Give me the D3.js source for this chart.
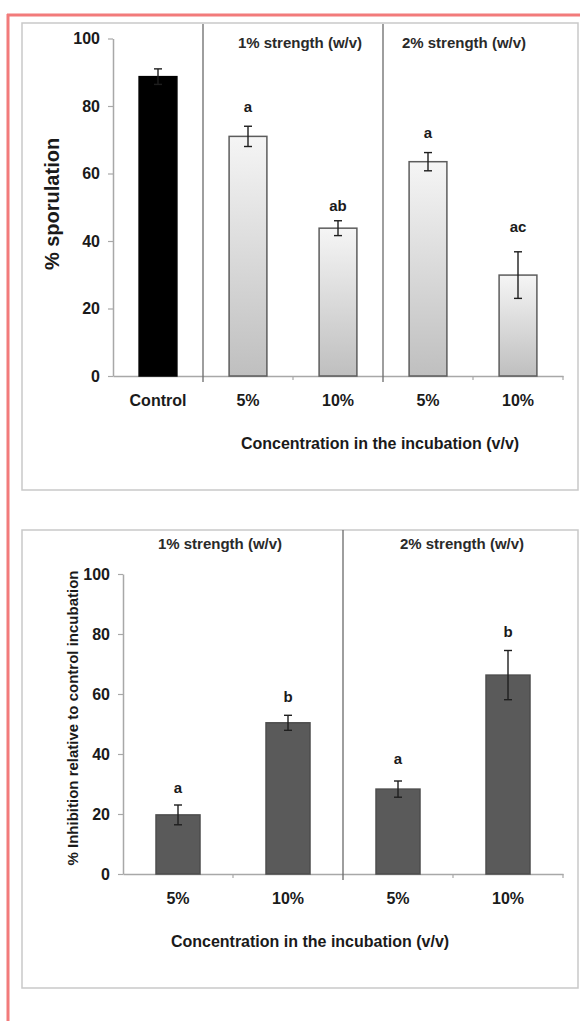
<!DOCTYPE html>
<html>
<head>
<meta charset="utf-8">
<script src="https://cdn.jsdelivr.net/npm/d3@7"></script>
<style>
  html, body { margin: 0; padding: 0; background: #fff; }
  svg { display: block; font-family: "Liberation Sans", Arial, sans-serif; }
</style>
</head>
<body>
<svg id="chart" width="580" height="1021"></svg>
<script>
// ---------- DATA ----------
// Panel 1: % sporulation
const categories1 = ["Control", "5%", "10%", "5%", "10%"];
const values1 = [88.7, 71.0, 43.8, 63.5, 29.9];
const errors1 = [2.3, 3.0, 2.2, 2.7, 6.9];
const letters1 = ["", "a", "ab", "a", "ac"];
const letterPos1 = [null, 79.8, 50.3, 72.0, 44.2];
const groups1 = ["1% strength (w/v)", "2% strength (w/v)"];
const yTicks1 = [0, 20, 40, 60, 80, 100];

// Panel 2: % inhibition
const categories2 = ["5%", "10%", "5%", "10%"];
const values2 = [19.7, 50.4, 28.3, 66.3];
const errors2 = [3.3, 2.5, 2.7, 8.2];
const letters2 = ["a", "b", "a", "b"];
const letterPos2 = [28.7, 59.1, 38.2, 80.8];
const groups2 = ["1% strength (w/v)", "2% strength (w/v)"];
const yTicks2 = [0, 20, 40, 60, 80, 100];

const xTitle = "Concentration in the incubation (v/v)";
const yTitle1 = "% sporulation";
const yTitle2 = "% Inhibition relative to control incubation";

// ---------- DRAW ----------
const svg = d3.select("#chart");
const defs = svg.append("defs");
const grad = defs.append("linearGradient").attr("id", "barGrad")
  .attr("x1", 0).attr("y1", 0).attr("x2", 0).attr("y2", 1);
grad.append("stop").attr("offset", "0%").attr("stop-color", "#f5f5f5");
grad.append("stop").attr("offset", "100%").attr("stop-color", "#bfbfbf");

// outer red frame
svg.append("line").attr("x1", 7).attr("x2", 580).attr("y1", 15).attr("y2", 15)
  .attr("stroke", "#f27b7b").attr("stroke-width", 3);
svg.append("line").attr("x1", 8).attr("x2", 8).attr("y1", 14).attr("y2", 1021)
  .attr("stroke", "#f27b7b").attr("stroke-width", 3);

// panel boxes
[[23, 490], [530, 988]].forEach(([t, b]) => {
  svg.append("rect").attr("x", 22).attr("y", t).attr("width", 556).attr("height", b - t)
    .attr("fill", "#fff").attr("stroke", "#c9c9c9").attr("stroke-width", 1.5);
});

const axisColor = "#a8a8a8";
const textColor = "#1a1a1a";

function styleAxis(g) {
  g.select(".domain").attr("stroke", axisColor).attr("stroke-width", 1.5);
  g.selectAll(".tick line").attr("stroke", axisColor).attr("stroke-width", 1.2);
  g.selectAll(".tick text").attr("fill", textColor)
    .attr("font-family", "Liberation Sans, Arial, sans-serif")
    .attr("font-weight", "bold").attr("font-size", 16);
}

function drawPanel(cfg) {
  const x = d3.scaleBand().domain(d3.range(cfg.cats.length))
    .range(cfg.xRange).paddingInner(cfg.pad).paddingOuter(cfg.pad / 2);
  const y = d3.scaleLinear().domain([0, 100]).range(cfg.yRange);

  // y axis
  const gy = svg.append("g").attr("transform", `translate(${cfg.xRange[0]},0)`)
    .call(d3.axisLeft(y).tickValues(cfg.yTicks).tickSize(5).tickPadding(8).tickSizeOuter(0));
  styleAxis(gy);

  // x baseline + minor ticks at category boundaries
  const gx = svg.append("g").attr("transform", `translate(0,${cfg.yRange[0]})`)
    .call(d3.axisBottom(x).tickSize(0).tickPadding(19).tickFormat(i => cfg.cats[i]).tickSizeOuter(0));
  styleAxis(gx);
  const bounds = d3.range(1, cfg.cats.length + 1).map(i => x(i - 1) + x.bandwidth() + x.step() * cfg.pad / 2);
  svg.append("g").selectAll("line").data(bounds.filter((b, i) => !cfg.sepIdx.includes(i + 1)))
    .join("line")
    .attr("x1", d => d).attr("x2", d => d)
    .attr("y1", cfg.yRange[0]).attr("y2", cfg.yRange[0] + 4)
    .attr("stroke", axisColor).attr("stroke-width", 1.2);

  // group separators
  cfg.sepIdx.forEach(k => {
    const sx = cfg.xRange[0] + k * x.step();
    svg.append("line").attr("x1", sx).attr("x2", sx)
      .attr("y1", cfg.sepTop).attr("y2", cfg.yRange[0] + 6)
      .attr("stroke", "#6a6a6a").attr("stroke-width", 1.3);
  });

  // group headers
  cfg.groups.forEach((gname, i) => {
    svg.append("text").attr("x", cfg.groupX[i]).attr("y", cfg.groupY)
      .attr("text-anchor", "middle").attr("font-weight", "bold")
      .attr("font-size", 15).attr("fill", "#2a2a2a").text(gname);
  });

  // bars
  svg.append("g").selectAll("rect").data(cfg.vals).join("rect")
    .attr("x", (d, i) => x(i)).attr("width", x.bandwidth())
    .attr("y", d => y(d)).attr("height", d => y(0) - y(d))
    .attr("fill", (d, i) => cfg.fill(i))
    .attr("stroke", (d, i) => cfg.stroke(i))
    .attr("stroke-width", 1.5);

  // error bars
  const eg = svg.append("g").attr("stroke", "#1e1e1e").attr("stroke-width", 1.4);
  cfg.vals.forEach((v, i) => {
    const cx = x(i) + x.bandwidth() / 2;
    const lo = y(v - cfg.errs[i]), hi = y(v + cfg.errs[i]);
    eg.append("line").attr("x1", cx).attr("x2", cx).attr("y1", lo).attr("y2", hi);
    eg.append("line").attr("x1", cx - cfg.cap).attr("x2", cx + cfg.cap).attr("y1", lo).attr("y2", lo);
    eg.append("line").attr("x1", cx - cfg.cap).attr("x2", cx + cfg.cap).attr("y1", hi).attr("y2", hi);
  });

  // significance letters
  svg.append("g").selectAll("text").data(cfg.letters).join("text")
    .attr("x", (d, i) => x(i) + x.bandwidth() / 2)
    .attr("y", (d, i) => cfg.letterPos[i] == null ? 0 : y(cfg.letterPos[i]) + 5)
    .attr("text-anchor", "middle").attr("font-weight", "bold").attr("font-size", 15)
    .attr("fill", textColor).text(d => d);

  // x title
  svg.append("text").attr("x", cfg.xTitleX).attr("y", cfg.xTitleY)
    .attr("text-anchor", "middle").attr("font-weight", "bold").attr("font-size", 16)
    .attr("fill", textColor).text(xTitle);

  // y title
  svg.append("text")
    .attr("transform", `translate(${cfg.yTitleX},${cfg.yTitleY}) rotate(-90)`)
    .attr("text-anchor", "middle").attr("font-weight", "bold").attr("font-size", cfg.yTitleSize)
    .attr("fill", textColor).text(cfg.yTitle);
}

drawPanel({
  cats: categories1, vals: values1, errs: errors1, letters: letters1, letterPos: letterPos1,
  yTicks: yTicks1, groups: groups1,
  xRange: [113, 563], yRange: [376, 38.5], pad: 0.58,
  sepIdx: [1, 3], sepTop: 24,
  groupX: [300, 464], groupY: 48,
  fill: i => i === 0 ? "#000" : "url(#barGrad)",
  stroke: i => i === 0 ? "#000" : "#5c5c5c",
  cap: 4,
  xTitleX: 380, xTitleY: 449,
  yTitle: yTitle1, yTitleX: 59, yTitleY: 204, yTitleSize: 20
});

drawPanel({
  cats: categories2, vals: values2, errs: errors2, letters: letters2, letterPos: letterPos2,
  yTicks: yTicks2, groups: groups2,
  xRange: [123, 563], yRange: [874, 574], pad: 0.6,
  sepIdx: [2], sepTop: 530,
  groupX: [220, 462], groupY: 549,
  fill: i => "#5a5a5a",
  stroke: i => "#4d4d4d",
  cap: 4,
  xTitleX: 310, xTitleY: 947,
  yTitle: yTitle2, yTitleX: 78, yTitleY: 718, yTitleSize: 15
});
</script>
</body>
</html>
